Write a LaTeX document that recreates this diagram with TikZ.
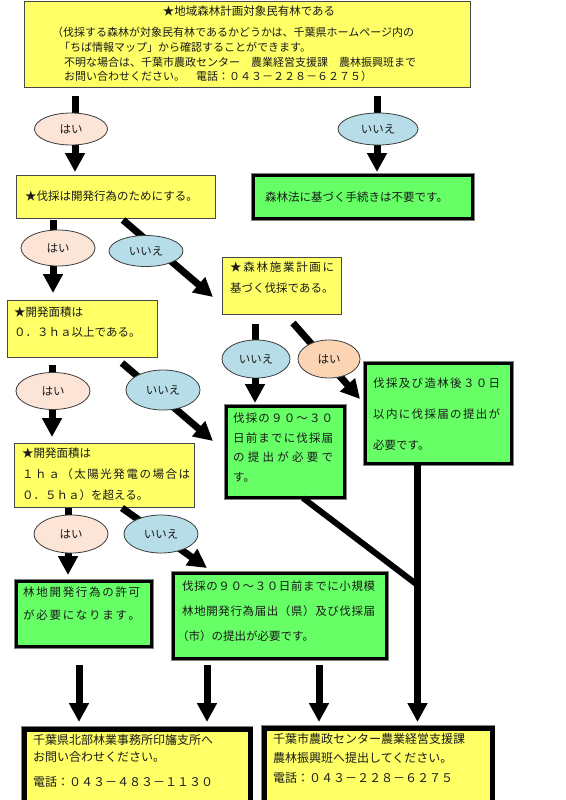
\documentclass[tikz,border=0pt]{standalone}
\usepackage{fontspec}
\setmainfont{Noto Sans CJK JP}
\usetikzlibrary{arrows.meta,shapes.geometric}
\definecolor{ylw}{HTML}{FFFF66}
\definecolor{grn}{HTML}{66FF66}
\definecolor{peach}{HTML}{FCE4D6}
\definecolor{peachb}{HTML}{FBD4B4}
\definecolor{sky}{HTML}{B7DEE8}
\definecolor{ink}{HTML}{1A1A1A}
\definecolor{rim}{HTML}{808080}
\def\sprX#1{\ifx#1\relax\else\hfill#1\expandafter\sprX\fi}
\def\sprfirst#1{#1\sprX}
\newcommand\spreadto[2]{\makebox[#1][s]{\sprfirst#2\relax}}
\tikzset{
  ybox/.style={draw=ink!80, line width=0.9pt, fill=ylw, inner sep=0pt, anchor=north west},
  gbox/.style={fill=grn, draw=black, line width=3pt, inner sep=0pt, anchor=north west,
    preaction={draw=rim, line width=4.6pt}},
  bbox/.style={fill=ylw, draw=black, line width=4.5pt, inner sep=0pt, anchor=north west,
    preaction={draw=rim, line width=6.2pt}},
  txt/.style={inner sep=0pt, anchor=north west, align=left, text=ink,
    font=\fontsize{11.5}{20}\selectfont},
  yes/.style={ellipse, draw=ink!85, line width=0.8pt, fill=peach, inner sep=0pt,
    font=\fontsize{11.5}{14}\selectfont, text=ink},
  no/.style={ellipse, draw=ink!85, line width=0.8pt, fill=sky, inner sep=0pt,
    font=\fontsize{11.5}{14}\selectfont, text=ink},
  arr/.style={line width=7pt, -{Triangle[width=19pt,length=19pt]}},
  bar/.style={line width=6pt},
}
\begin{document}
\begin{tikzpicture}[x=1pt,y=-1pt]
\useasboundingbox (0,0) rectangle (565,800);
\fill[white] (0,0) rectangle (565,800);
% ---------- boxes ----------
\node[ybox, minimum width=446pt, minimum height=86pt] (top) at (24,1) {};
\node[ybox, minimum width=199pt, minimum height=43pt] (q1) at (16,175) {};
\node[gbox, minimum width=219pt, minimum height=43pt] (g0) at (252,174) {};
\node[ybox, minimum width=119pt, minimum height=57pt] (q2) at (222,257) {};
\node[ybox, minimum width=150pt, minimum height=57pt] (q3) at (7,300) {};
\node[gbox, minimum width=118pt, minimum height=91pt] (g1) at (225,405) {};
\node[gbox, minimum width=146pt, minimum height=100pt] (g2) at (364,362) {};
\node[ybox, minimum width=180pt, minimum height=64pt] (q4) at (14,443) {};
\node[gbox, minimum width=135pt, minimum height=65pt] (g3) at (15,580) {};
\node[gbox, minimum width=213pt, minimum height=85pt] (g4) at (172,572) {};
\node[bbox, minimum width=226pt, minimum height=76pt] (b1) at (22,727) {};
\node[bbox, minimum width=228pt, minimum height=77pt] (b2) at (262,726) {};
% ---------- texts ----------
\node[txt, anchor=north, font=\fontsize{11.5}{14}\selectfont] (topt) at (249,6) {★地域森林計画対象民有林である};
\node[txt, font=\fontsize{11}{14.7}\selectfont] (topb) at (52,27) {（伐採する森林が対象民有林であるかどうかは、千葉県ホームページ内の\\
\hspace*{7pt}「ちば情報マップ」から確認することができます。\\
\hspace*{12pt}不明な場合は、千葉市農政センター　農業経営支援課　農林振興班まで\\
\hspace*{12pt}お問い合わせください。　電話：０４３－２２８－６２７５）};
\node[txt] (q1t) at (25,190.5) {★伐採は開発行為のためにする。};
\node[txt] (g0t) at (265,191.5) {森林法に基づく手続きは不要です。};
\node[txt, font=\fontsize{11.5}{21}\selectfont] (q2t) at (230,261.5) {\spreadto{104pt}{★森林施業計画に}\\基づく伐採である。};
\node[txt] (q3t) at (14,306.5) {★開発面積は\\０．３ｈａ以上である。};
\node[txt, font=\fontsize{11.5}{19.7}\selectfont] (g1t) at (233,412.5) {\spreadto{100pt}{伐採の９０～３０}\\\spreadto{100pt}{日前までに伐採届}\\\spreadto{100pt}{の提出が必要で}\\す。};
\node[txt, font=\fontsize{11.5}{31}\selectfont] (g2t) at (373,377.5) {\spreadto{127pt}{伐採及び造林後３０日}\\\spreadto{127pt}{以内に伐採届の提出が}\\必要です。};
\node[txt, font=\fontsize{11.5}{21}\selectfont] (q4t) at (22,447.5) {★開発面積は\\\spreadto{168pt}{１ｈａ（太陽光発電の場合は}\\０．５ｈａ）を超える。};
\node[txt, font=\fontsize{11.5}{23}\selectfont] (g3t) at (23,586.5) {\spreadto{117pt}{林地開発行為の許可}\\\spreadto{117pt}{が必要になります。}};
\node[txt, font=\fontsize{11.5}{25}\selectfont] (g4t) at (182,580.5) {\spreadto{193pt}{伐採の９０～３０日前までに小規模}\\\spreadto{193pt}{林地開発行為届出（県）及び伐採届}\\\hspace*{-5pt}（市）の提出が必要です。};
\node[txt, font=\fontsize{12}{17}\selectfont] (b1t) at (33,734) {千葉県北部林業事務所印旛支所へ\\お問い合わせください。\\[8pt]電話：０４３－４８３－１１３０};
\node[txt, font=\fontsize{12}{19.5}\selectfont] (b2t) at (273,733) {千葉市農政センター農業経営支援課\\農林振興班へ提出してください。\\電話：０４３－２２８－６２７５};
% ---------- connectors ----------
\coordinate (s1) at (75,96);
\coordinate (s2) at (377,96);
\coordinate (s3) at (53,220);
\coordinate (s4) at (123,220);
\coordinate (e4) at (213,297);
\coordinate (s5) at (255,324);
\coordinate (s6) at (293,323);
\coordinate (e6) at (360,399);
\coordinate (s7) at (52,365);
\coordinate (s8) at (122,363);
\coordinate (e8) at (213,441);
\coordinate (s9) at (68,508);
\coordinate (s10) at (122,508);
\coordinate (e10) at (207,568);
\coordinate (s11) at (303,498);
\coordinate (j1) at (417.5,585);
\coordinate (s12) at (79,665);
\coordinate (s13) at (207,665);
\coordinate (s14) at (319,665);
\draw[arr, shorten >=3pt] (s1) -- (s1 |- q1.north);
\draw[arr, shorten >=2pt] (s2) -- (s2 |- g0.north);
\draw[arr, shorten >=7pt] (s3) -- (s3 |- q3.north);
\draw[arr] (s4) -- (e4);
\draw[arr, shorten >=2pt] (s5) -- (s5 |- g1.north);
\draw[arr] (s6) -- (e6);
\draw[arr, shorten >=6pt] (s7) -- (s7 |- q4.north);
\draw[arr] (s8) -- (e8);
\draw[arr, shorten >=5pt] (s9) -- (s9 |- g3.north);
\draw[arr] (s10) -- (e10);
\draw[bar] (s11) -- (j1);
\draw[arr, line width=6.5pt, shorten >=4pt, shorten <=-1pt] (j1 |- g2.south) -- (j1 |- b2.north);
\draw[arr, shorten >=5pt] (s12) -- (s12 |- b1.north);
\draw[arr, shorten >=5pt] (s13) -- (s13 |- b1.north);
\draw[arr, shorten >=4pt] (s14) -- (s14 |- b2.north);
% ---------- answer labels ----------
\node[yes, minimum width=73pt, minimum height=32pt] (y1) at (71,129) {はい};
\node[no, minimum width=80pt, minimum height=32pt] (n1) at (378,129) {いいえ};
\node[yes, minimum width=74pt, minimum height=36pt] (y2) at (58,248) {はい};
\node[no, minimum width=74pt, minimum height=31pt] (n2) at (146,251) {いいえ};
\node[no, minimum width=68pt, minimum height=38pt] (n3) at (256,359) {いいえ};
\node[yes, fill=peachb, minimum width=62pt, minimum height=38pt] (y3) at (329,359) {はい};
\node[yes, minimum width=74pt, minimum height=37pt] (y4) at (53,391) {はい};
\node[no, minimum width=74pt, minimum height=40pt] (n4) at (163,390) {いいえ};
\node[yes, minimum width=74pt, minimum height=38pt] (y5) at (71,534) {はい};
\node[no, minimum width=74pt, minimum height=38pt] (n5) at (161,534) {いいえ};
\end{tikzpicture}
\end{document}
